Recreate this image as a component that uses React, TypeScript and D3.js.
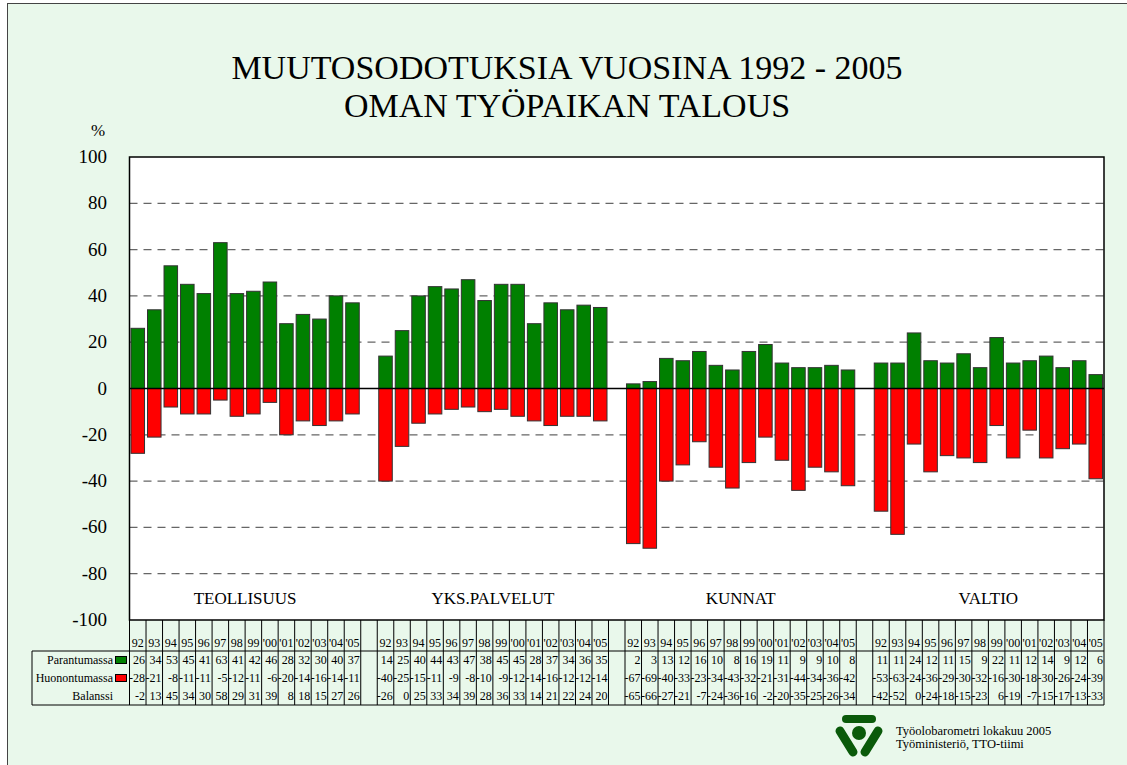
import React from "react";
import * as d3 from "d3";

const groups = ["TEOLLISUUS", "YKS.PALVELUT", "KUNNAT", "VALTIO"];
const years = ["92", "93", "94", "95", "96", "97", "98", "99", "'00", "'01", "'02", "'03", "'04", "'05"];

const parantumassa = [
  [26, 34, 53, 45, 41, 63, 41, 42, 46, 28, 32, 30, 40, 37],
  [14, 25, 40, 44, 43, 47, 38, 45, 45, 28, 37, 34, 36, 35],
  [2, 3, 13, 12, 16, 10, 8, 16, 19, 11, 9, 9, 10, 8],
  [11, 11, 24, 12, 11, 15, 9, 22, 11, 12, 14, 9, 12, 6],
];
const huonontumassa = [
  [-28, -21, -8, -11, -11, -5, -12, -11, -6, -20, -14, -16, -14, -11],
  [-40, -25, -15, -11, -9, -8, -10, -9, -12, -14, -16, -12, -12, -14],
  [-67, -69, -40, -33, -23, -34, -43, -32, -21, -31, -44, -34, -36, -42],
  [-53, -63, -24, -36, -29, -30, -32, -16, -30, -18, -30, -26, -24, -39],
];
const balanssi = [
  [-2, 13, 45, 34, 30, 58, 29, 31, 39, 8, 18, 15, 27, 26],
  [-26, 0, 25, 33, 34, 39, 28, 36, 33, 14, 21, 22, 24, 20],
  [-65, -66, -27, -21, -7, -24, -36, -16, -2, -20, -35, -25, -26, -34],
  [-42, -52, 0, -24, -18, -15, -23, 6, -19, -7, -15, -17, -13, -33],
];
const yTicks = [100, 80, 60, 40, 20, 0, -20, -40, -60, -80, -100];
const rowLabels = ["Parantumassa", "Huonontumassa", "Balanssi"];

const GREEN = "#008000";
const RED = "#ff0000";
const BG = "#e9f8eb";
const FONT = "Liberation Serif, DejaVu Serif, serif";

export default function App() {
  const left = 129.5, right = 1104, top = 157, bottom = 620;
  const cols: { key: string; g: number; i: number }[] = [];
  groups.forEach((g, gi) => {
    years.forEach((y, i) => cols.push({ key: `${gi}-${i}`, g: gi, i }));
    if (gi < groups.length - 1) cols.push({ key: `gap-${gi}`, g: -1, i: -1 });
  });
  const pad = 0.18;
  const x = d3.scaleBand<string>().domain(cols.map((c) => c.key)).range([left, right]).paddingInner(pad).paddingOuter(pad / 2);
  const step = x.step();
  const bw = x.bandwidth();
  const colStart = (k: string) => (x(k) as number) - (step * pad) / 2;
  const y = d3.scaleLinear().domain([-100, 100]).range([bottom, top]);

  const tableTop = 651, rowH = 18, tableBottom = tableTop + 3 * rowH;
  const rowsData = [parantumassa, huonontumassa, balanssi];

  const dataCols = cols.filter((c) => c.g >= 0);
  const boundaries = cols.map((c) => colStart(c.key)).concat([right]);

  return (
    <svg width={1127} height={765} style={{ position: "absolute", left: 0, top: 0, fontFamily: FONT }}>
      <rect x={0} y={0} width={1127} height={765} fill="#fff" />
      <rect x={7.5} y={3.5} width={1130} height={770} fill={BG} stroke="#444" strokeWidth={1} />
      <text x={567} y={79} textAnchor="middle" fontSize={34}>MUUTOSODOTUKSIA VUOSINA 1992 - 2005</text>
      <text x={567} y={117} textAnchor="middle" fontSize={34}>OMAN TYÖPAIKAN TALOUS</text>
      <text x={98} y={136} textAnchor="middle" fontSize={17}>%</text>
      <rect x={left} y={top} width={right - left} height={bottom - top} fill="#fff" />
      {yTicks.filter((t) => t !== 0 && t !== 100 && t !== -100).map((t) => (
        <line key={t} x1={left} x2={right} y1={y(t)} y2={y(t)} stroke="#666" strokeWidth={1.2} strokeDasharray="8,6" />
      ))}
      {yTicks.map((t) => (
        <text key={t} x={107} y={y(t) + 6} textAnchor="end" fontSize={19}>{t}</text>
      ))}
      {dataCols.map((c) => {
        const p = parantumassa[c.g][c.i];
        const h = huonontumassa[c.g][c.i];
        const bx = x(c.key) as number;
        return (
          <g key={c.key}>
            <rect x={bx} y={y(p)} width={bw} height={y(0) - y(p)} fill={GREEN} stroke="#333" strokeWidth={1} />
            <rect x={bx} y={y(0)} width={bw} height={y(h) - y(0)} fill={RED} stroke="#333" strokeWidth={1} />
          </g>
        );
      })}
      <line x1={left} x2={right} y1={y(0)} y2={y(0)} stroke="#000" strokeWidth={1.5} />
      <rect x={left} y={top} width={right - left} height={bottom - top} fill="none" stroke="#000" strokeWidth={1.5} />
      {groups.map((g, gi) => {
        const first = colStart(`${gi}-0`);
        const last = colStart(`${gi}-13`) + step;
        return (
          <text key={g} x={(first + last) / 2} y={604} textAnchor="middle" fontSize={17}>{g}</text>
        );
      })}
      {boundaries.map((bx, i) => (
        <line key={i} x1={bx} x2={bx} y1={bottom} y2={tableBottom} stroke="#000" strokeWidth={1} />
      ))}
      <line x1={32} x2={right} y1={tableTop} y2={tableTop} stroke="#000" strokeWidth={1} />
      <line x1={32} x2={right} y1={tableBottom} y2={tableBottom} stroke="#000" strokeWidth={1} />
      <line x1={32} x2={32} y1={tableTop} y2={tableBottom} stroke="#000" strokeWidth={1} />
      {dataCols.map((c) => (
        <text key={"yr" + c.key} x={colStart(c.key) + step / 2} y={647} textAnchor="middle" fontSize={12}>{years[c.i]}</text>
      ))}
      {rowLabels.map((lab, r) => (
        <g key={lab}>
          <text x={113} y={tableTop + r * rowH + 13} textAnchor="end" fontSize={12}>{lab}</text>
          {r < 2 && (
            <rect x={115.5} y={tableTop + r * rowH + 5.5} width={11} height={7} fill={r === 0 ? GREEN : RED} stroke="#000" strokeWidth={1} />
          )}
          {dataCols.map((c) => (
            <text key={c.key} x={colStart(c.key) + step - 1} y={tableTop + r * rowH + 13} textAnchor="end" fontSize={12}>
              {rowsData[r][c.g][c.i]}
            </text>
          ))}
        </g>
      ))}
      <g fill="#0a5a0a" stroke="#0a5a0a">
        <line x1={846} y1={719} x2={872} y2={719} strokeWidth={8} strokeLinecap="round" />
        <circle cx={859} cy={733} r={7} stroke="none" />
        <line x1={840} y1={731} x2={853} y2={752} strokeWidth={9} strokeLinecap="round" />
        <line x1={878} y1={731} x2={865} y2={752} strokeWidth={9} strokeLinecap="round" />
      </g>
      <text x={896} y={735} fontSize={12.5}>Työolobarometri lokakuu 2005</text>
      <text x={896} y={748} fontSize={12.5}>Työministeriö, TTO-tiimi</text>
    </svg>
  );
}
